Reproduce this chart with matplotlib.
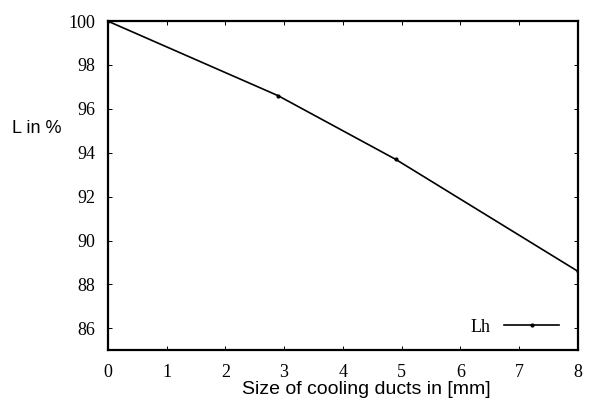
import matplotlib.pyplot as plt

# values
duct_size = [0, 2.9, 4.9, 8]
loss_pct = [100, 96.6, 93.7, 88.6]
x_ticks = [0, 1, 2, 3, 4, 5, 6, 7, 8]
y_ticks = [86, 88, 90, 92, 94, 96, 98, 100]

fig = plt.figure(figsize=(5.92, 3.98), dpi=100)
ax = fig.add_axes([0.182, 0.12, 0.794, 0.827])

ax.plot(duct_size, loss_pct, color='black', lw=1.2, marker='.', ms=4, label='Lh')

ax.set_xlim(0, 8)
ax.set_ylim(85, 100)
ax.set_xticks(x_ticks)
ax.set_yticks(y_ticks)
ax.tick_params(direction='in', length=3, width=0.7, top=True, right=True)
ax.tick_params(axis='x', pad=10)
ax.tick_params(axis='y', pad=9)
for lab in ax.get_xticklabels() + ax.get_yticklabels():
    lab.set_family('Liberation Serif')
    lab.set_fontsize(13)
for s in ax.spines.values():
    s.set_linewidth(1.6)

# axis titles placed like in the scan
fig.text(0.618, 0.022, 'Size of cooling ducts in [mm]', family='Liberation Sans',
         fontsize=14, ha='center', va='center')
fig.text(0.02, 0.678, 'L in %', family='Liberation Sans', fontsize=13, va='center')

leg = ax.legend(loc='lower right', frameon=False, markerfirst=False, handlelength=3,
                prop={'family': 'Liberation Serif', 'size': 13},
                bbox_to_anchor=(0.99, 0.0), borderaxespad=0.4)

fig.savefig('out.png')
